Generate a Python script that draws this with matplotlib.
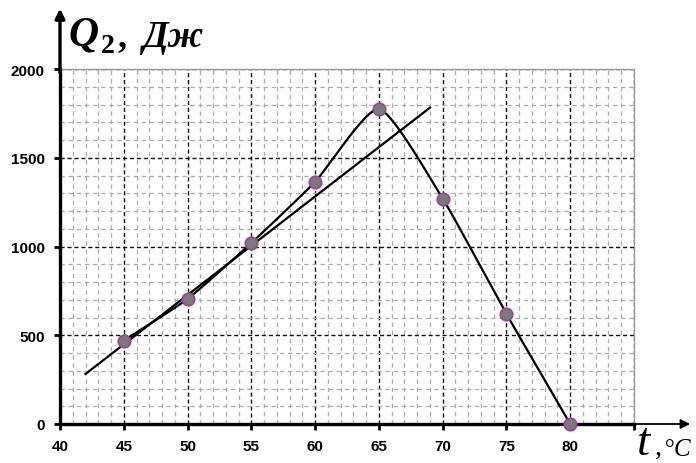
import numpy as np
import matplotlib
matplotlib.use("Agg")
import matplotlib.pyplot as plt
from matplotlib.ticker import MultipleLocator

# Measured heat Q2 versus temperature t
temps = [45, 50, 55, 60, 65, 70, 75, 80]
heat = [470, 705, 1020, 1365, 1775, 1270, 620, 0]

# Straight-line approximation of the rising part
trend_t = [42, 69]
trend_q = [282, 1782]

x_ticks = [40, 45, 50, 55, 60, 65, 70, 75, 80]
y_ticks = [0, 500, 1000, 1500, 2000]


def smooth_curve(xs, ys, sx, sy, k=0.3, n=40):
    """Cardinal spline through the points, computed in scaled (screen-like) space."""
    px = np.asarray(xs, float) * sx
    py = np.asarray(ys, float) * sy
    pts = np.column_stack([px, py])
    ext = np.vstack([2 * pts[0] - pts[1], pts, 2 * pts[-1] - pts[-2]])
    out = []
    t = np.linspace(0, 1, n)[:, None]
    h00 = 2 * t ** 3 - 3 * t ** 2 + 1
    h10 = t ** 3 - 2 * t ** 2 + t
    h01 = -2 * t ** 3 + 3 * t ** 2
    h11 = t ** 3 - t ** 2
    for i in range(1, len(ext) - 2):
        p0, p1, p2, p3 = ext[i - 1], ext[i], ext[i + 1], ext[i + 2]
        m1 = k * (p2 - p0)
        m2 = k * (p3 - p1)
        seg = h00 * p1 + h10 * m1 + h01 * p2 + h11 * m2
        out.append(seg if i == 1 else seg[1:])
    out = np.vstack(out)
    return out[:, 0] / sx, out[:, 1] / sy


fig = plt.figure(figsize=(6.96, 4.64), dpi=100)
ax = fig.add_axes([60 / 696, 39 / 464, 574 / 696, 355 / 464])

ax.set_xlim(40, 85)
ax.set_ylim(0, 2000)

# grid
ax.xaxis.set_major_locator(MultipleLocator(5))
ax.yaxis.set_major_locator(MultipleLocator(500))
ax.xaxis.set_minor_locator(MultipleLocator(1))
ax.yaxis.set_minor_locator(MultipleLocator(100))
ax.grid(which="minor", color="#ababab", lw=0.9, ls=(0, (3.5, 3)))
ax.grid(which="major", color="#111111", lw=1.0, ls=(0, (3, 2)))
ax.set_axisbelow(True)

ax.set_xticks(x_ticks + [85])
ax.set_xticklabels([str(v) for v in x_ticks] + [""])
ax.set_yticks(y_ticks)
ax.set_yticklabels([str(v) for v in y_ticks])
ax.tick_params(which="major", direction="out", length=4, width=2.0, color="black",
               labelsize=11, pad=7)
ax.tick_params(axis="y", pad=7)
ax.tick_params(which="minor", length=0)
for lab in ax.get_xticklabels() + ax.get_yticklabels():
    lab.set_fontweight("bold")
    lab.set_fontfamily("Liberation Sans")

for side in ("top", "right"):
    ax.spines[side].set_color("#9a9a9a")
    ax.spines[side].set_linewidth(1.0)
for side in ("left", "bottom"):
    ax.spines[side].set_color("black")
    ax.spines[side].set_linewidth(2.4)

# axis arrows
ax.annotate("", xy=(0, 1.17), xytext=(0, 0.99), xycoords="axes fraction",
            textcoords="axes fraction", annotation_clip=False,
            arrowprops=dict(arrowstyle="-|>", lw=2.4, color="black",
                            mutation_scale=14, shrinkA=0, shrinkB=0))
ax.annotate("", xy=(1.098, 0), xytext=(0.985, 0), xycoords="axes fraction",
            textcoords="axes fraction", annotation_clip=False,
            arrowprops=dict(arrowstyle="-|>", lw=1.3, color="black",
                            mutation_scale=14, shrinkA=0, shrinkB=0))

# curves
sx, sy = 63.75 / 5, 88.75 / 500
cx, cy = smooth_curve(temps, heat, sx, sy)
ax.plot(cx, cy, color="black", lw=1.6, zorder=3)
ax.plot(trend_t, trend_q, color="black", lw=1.6, zorder=3)
ax.plot(temps, heat, "o", ms=9, mfc="#7a7a7a", mec="#a040a0", mew=1.2, zorder=4,
        clip_on=False)

# axis titles
fig.text(68 / 696, 1 - 46 / 464, "Q", fontsize=30, fontweight="bold", style="italic",
         family="Liberation Serif")
fig.text(101 / 696, 1 - 53 / 464, "2", fontsize=20, fontweight="bold",
         family="Liberation Serif")
fig.text(118 / 696, 1 - 46 / 464, ",", fontsize=26, fontweight="bold",
         family="Liberation Serif")
fig.text(143 / 696, 1 - 47 / 464, "Дж", fontsize=27, fontweight="bold", style="italic",
         family="Liberation Serif")

fig.text(637 / 696, 1 - 455 / 464, "t", fontsize=34, style="italic",
         family="Liberation Serif")
fig.text(655 / 696, 1 - 455 / 464, ",", fontsize=20, family="Liberation Serif")
fig.text(664 / 696, 1 - 456 / 464, "°C", fontsize=18, style="italic",
         family="Liberation Serif")

fig.savefig("out.png", dpi=100)
